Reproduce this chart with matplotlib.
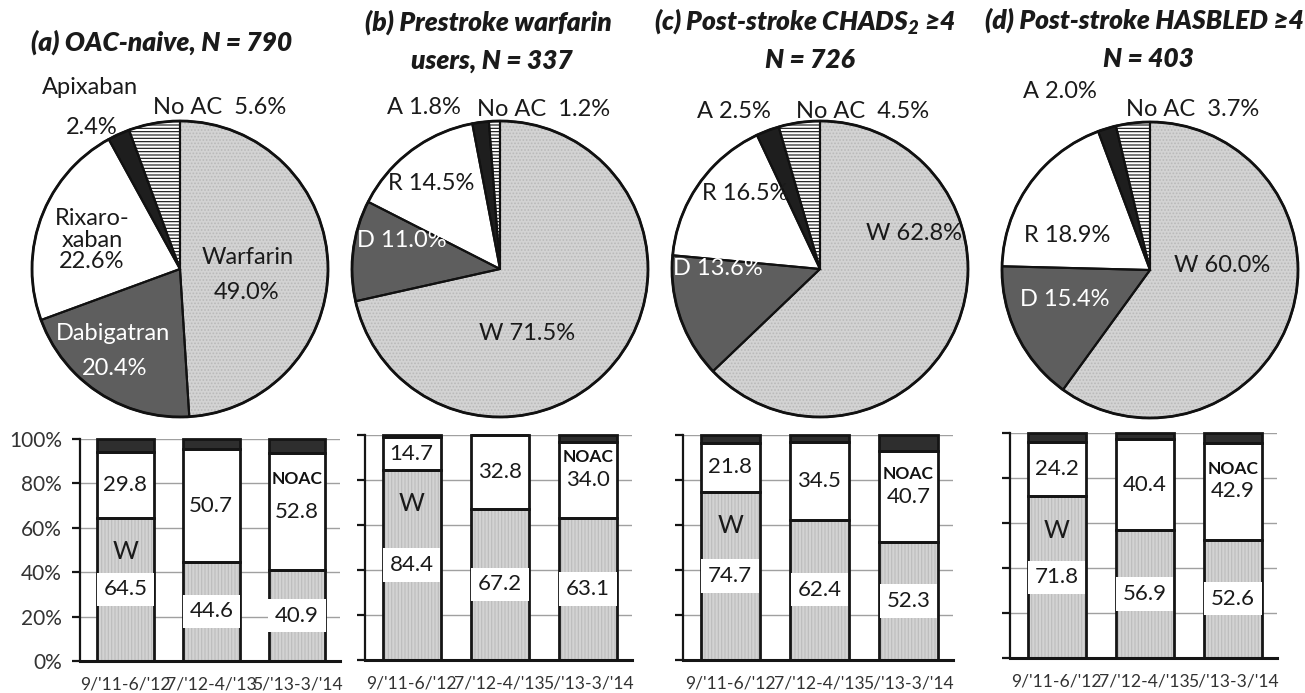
import matplotlib
matplotlib.use('Agg')
import matplotlib.pyplot as plt
from matplotlib.patches import Circle

plt.rcParams['font.family'] = ['Lato', 'DejaVu Sans']
plt.rcParams['mathtext.fontset'] = 'custom'
plt.rcParams['mathtext.rm'] = 'Lato:italic:heavy'
plt.rcParams['mathtext.it'] = 'Lato:italic:heavy'
plt.rcParams['mathtext.bf'] = 'Lato:italic:heavy'
plt.rcParams['hatch.linewidth'] = 0.8

# ---------------- data ----------------
drugs = ['Warfarin', 'Dabigatran', 'Rivaroxaban', 'Apixaban', 'No AC']
pie_a = [49.0, 20.4, 22.6, 2.4, 5.6]
pie_b = [71.5, 11.0, 14.5, 1.8, 1.2]
pie_c = [62.8, 13.6, 16.5, 2.5, 4.5]
pie_d = [60.0, 15.4, 18.9, 2.0, 3.7]

periods = ["9/'11-6/'12", "7/'12-4/'13", "5/'13-3/'14"]
warf_a = [64.5, 44.6, 40.9]
noac_a = [29.8, 50.7, 52.8]
none_a = [5.7, 4.7, 6.3]
warf_b = [84.4, 67.2, 63.1]
noac_b = [14.7, 32.8, 34.0]
none_b = [0.9, 0.0, 2.9]
warf_c = [74.7, 62.4, 52.3]
noac_c = [21.8, 34.5, 40.7]
none_c = [3.5, 3.1, 7.0]
warf_d = [71.8, 56.9, 52.6]
noac_d = [24.2, 40.4, 42.9]
none_d = [4.0, 2.7, 4.5]
yticks = [0, 20, 40, 60, 80, 100]
ytick_labels = ['0%', '20%', '40%', '60%', '80%', '100%']

title_lines = [
    ["(a) OAC-naive, N = 790"],
    ["(b) Prestroke warfarin", "users, N = 337"],
    ["(c) Post-stroke CHADS$_2$ ≥4", "N = 726"],
    ["(d) Post-stroke HASBLED ≥4", "N = 403"],
]

# ---------------- layout (pixels) ----------------
FW, FH = 1305, 693
fig = plt.figure(figsize=(FW / 100, FH / 100), dpi=100)
fig.patch.set_facecolor('white')


def fx(x):
    return x / FW


def fy(y):
    return 1 - y / FH


def rect(l, t, r, b):
    return [l / FW, 1 - b / FH, (r - l) / FW, (b - t) / FH]


pie_centers = [(180, 269), (500, 269), (820, 269), (1150, 270)]
R = 148
PAD = 1.05

title_pos = [[(162, 42)], [(488, 22), (492, 61)], [(805, 21), (810, 60)], [(1144, 20), (1148, 59)]]

fills = ['#d3d3d3', '#5e5e5e', 'white', '#1e1e1e', 'white']
hatches = ['.....', None, None, None, '-----']
hcolors = ['#b9b9b9', None, None, None, '#111111']
TXT = '#1a1a1a'


def draw_pie(cx, cy, vals):
    ax = fig.add_axes(rect(cx - R * PAD, cy - R * PAD, cx + R * PAD, cy + R * PAD))
    wedges, _ = ax.pie(vals, colors=fills, startangle=90, counterclock=False,
                       radius=1, wedgeprops=dict(linewidth=0))
    for w, h, hc in zip(wedges, hatches, hcolors):
        if h:
            w.set_hatch(h)
            w.set_edgecolor(hc)
    ax.pie(vals, colors=fills, startangle=90, counterclock=False, radius=1,
           wedgeprops=dict(linewidth=1.5, edgecolor='#111111', fill=False))
    ax.add_patch(Circle((0, 0), 1, fill=False, lw=2, ec='#111111'))
    ax.set_xlim(-PAD, PAD)
    ax.set_ylim(-PAD, PAD)
    ax.set_aspect('equal')
    ax.axis('off')
    return ax


pies = [pie_a, pie_b, pie_c, pie_d]
for (cx, cy), vals in zip(pie_centers, pies):
    draw_pie(cx, cy, vals)

# titles
for lines, poss in zip(title_lines, title_pos):
    for s, (x, y) in zip(lines, poss):
        fig.text(fx(x), fy(y), s, ha='center', va='center', fontsize=19,
                 fontweight='heavy', fontstyle='italic', color=TXT)

PFS = 17


def ptxt(x, y, s, color=TXT, **kw):
    fig.text(fx(x), fy(y), s, ha='center', va='center', fontsize=PFS, color=color, **kw)


def pc(v):
    return f"{v:.1f}%"


# pie (a) labels
ptxt(90, 88, 'Apixaban')
ptxt(92, 127, pc(pie_a[3]))
ptxt(220, 107, 'No AC  ' + pc(pie_a[4]))
ptxt(92, 240, 'Rixaro-\nxaban\n' + pc(pie_a[2]), linespacing=1.05)
ptxt(248, 257, 'Warfarin')
ptxt(247, 293, pc(pie_a[0]))
ptxt(113, 333, 'Dabigatran', color='white')
ptxt(115, 368, pc(pie_a[1]), color='white')

# pie (b)-(d) labels
short_pos = [
    [(527, 333), (402, 240), (431, 183), (424, 108), (544, 110)],
    [(914, 233), (718, 268), (745, 194), (734, 112), (863, 112)],
    [(1222, 265), (1065, 300), (1067, 236), (1060, 92), (1193, 110)],
]
prefixes = ['W ', 'D ', 'R ', 'A ', 'No AC  ']
for vals, poss in zip(pies[1:], short_pos):
    for i, (v, (x, y)) in enumerate(zip(vals, poss)):
        ptxt(x, y, prefixes[i] + pc(v), color='white' if i == 1 else TXT)

# ---------------- bar charts ----------------
bar_rects = [(80, 439, 340, 661), (365, 435, 632, 660), (683, 435, 953, 660), (1010, 433, 1277, 658)]
bar_data = [(warf_a, noac_a, none_a), (warf_b, noac_b, none_b),
            (warf_c, noac_c, none_c), (warf_d, noac_d, none_d)]
xs = [0, 1, 2]
BW = 0.66
BFS = 16

for k, ((l, t, r, b), (wv, nv, ov)) in enumerate(zip(bar_rects, bar_data)):
    ax = fig.add_axes(rect(l, t, r, b))
    ax.set_xlim(-0.53, 2.5)
    ax.set_ylim(0, 100)
    ax.set_axisbelow(True)
    ax.yaxis.grid(True, color='#a0a0a0', lw=1)
    bottoms2 = [w + n for w, n in zip(wv, nv)]
    # fills
    ax.bar(xs, wv, BW, color='#d3d3d3', hatch='|||||', edgecolor='#bcbcbc', linewidth=0, zorder=2)
    ax.bar(xs, nv, BW, bottom=wv, color='white', linewidth=0, zorder=2)
    ax.bar(xs, ov, BW, bottom=bottoms2, color='#2e2e2e', linewidth=0, zorder=2)
    # outlines
    for vals, bot in [(wv, [0, 0, 0]), (nv, wv), (ov, bottoms2)]:
        ax.bar(xs, vals, BW, bottom=bot, fill=False, edgecolor='#151515', linewidth=2,
               zorder=3, clip_on=False)
    for s in ['top', 'right']:
        ax.spines[s].set_visible(False)
    ax.spines['left'].set_linewidth(1.6)
    ax.spines['bottom'].set_linewidth(2.2)
    ax.spines['left'].set_color('#151515')
    ax.spines['bottom'].set_color('#151515')
    ax.set_yticks(yticks)
    ax.tick_params(axis='y', direction='out', length=6, width=1.6, color='#151515', pad=7,
                   labelsize=15, labelcolor='#333333')
    if k != 0:
        ax.set_yticklabels([])
    else:
        ax.set_yticklabels(ytick_labels)
    ax.set_xticks(xs)
    ax.set_xticklabels(periods, fontsize=12.6, color='#333333')
    ax.tick_params(axis='x', length=0, pad=11)
    # labels
    for i in xs:
        ax.text(i, wv[i] / 2, f"{wv[i]:.1f}", ha='center', va='center', fontsize=BFS, color=TXT,
                zorder=4, bbox=dict(boxstyle='square,pad=0.3', fc='white', ec='none'))
        ax.text(i, wv[i] + nv[i] / 2, f"{nv[i]:.1f}", ha='center', va='center', fontsize=BFS,
                color=TXT, zorder=4)
    ax.text(0, wv[0] - 15, 'W', ha='center', va='center', fontsize=18, color=TXT, zorder=4)
    ax.text(2, max(82, wv[2] + nv[2] / 2 + 10), 'NOAC', ha='center', va='center', fontsize=12.5,
            fontweight='bold', color='#111111', zorder=4)

fig.savefig('out.png', dpi=100, facecolor='white')
